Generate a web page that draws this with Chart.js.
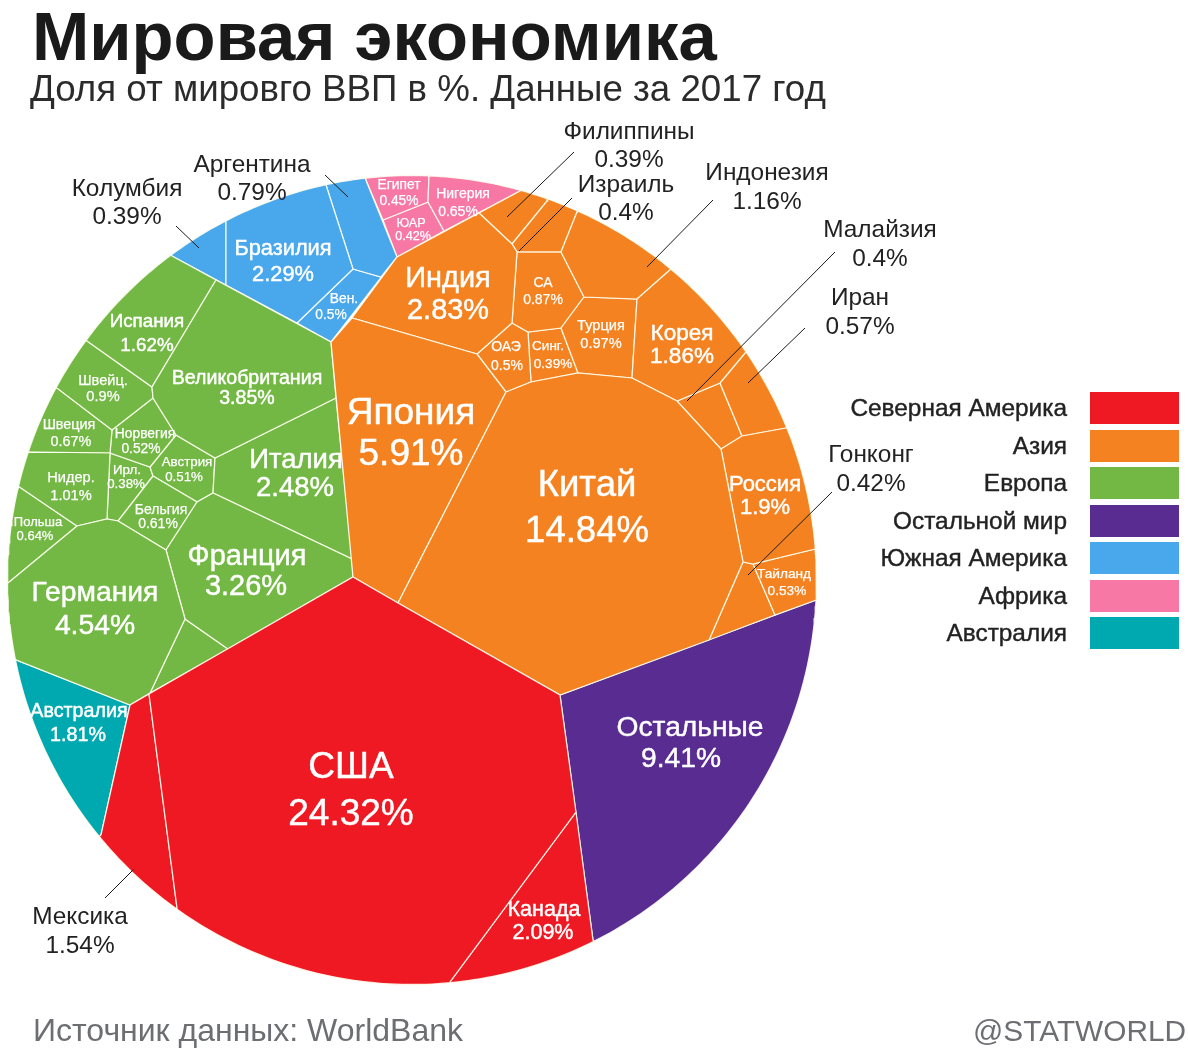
<!DOCTYPE html>
<html lang="ru">
<head>
<meta charset="utf-8">
<title>Мировая экономика</title>
<script src="https://cdn.jsdelivr.net/npm/chart.js@4"></script>
<style>
html,body{margin:0;padding:0;background:#fff;}
#page{position:relative;width:1188px;height:1051px;overflow:hidden;font-family:"Liberation Sans",Arial,sans-serif;}
canvas{position:absolute;left:0;top:0;}
.t{position:absolute;white-space:nowrap;line-height:1;}
#title{left:32px;top:3px;font-size:68.8px;font-weight:700;color:#1a1a1a;}
#subtitle{left:30px;top:71px;font-size:36.7px;color:#2b2b2b;}
#source{left:33px;top:1014px;font-size:32px;color:#6d6e71;}
#credit{right:2px;top:1016px;font-size:29.8px;color:#6d6e71;}
.lg{position:absolute;right:121px;font-size:24.4px;color:#222;white-space:nowrap;line-height:1;-webkit-text-stroke:.4px #222;}
.sw{position:absolute;left:1090px;width:89px;height:32px;}
</style>
</head>
<body>
<div id="page">
<canvas id="c" width="1188" height="1051"></canvas>
<div class="t" id="title">Мировая экономика</div>
<div class="t" id="subtitle">Доля от мировго ВВП в %. Данные за 2017 год</div>
<div class="t" id="source">Источник данных: WorldBank</div>
<div class="t" id="credit">@STATWORLD</div>
</div>
<script>
// ---------- data ----------
const regionNames  = ['Северная Америка','Азия','Европа','Остальной мир','Южная Америка','Африка','Австралия'];
const regionColors = ['#EF1923','#F58220','#73B845','#582C90','#49A7EC','#F778A5','#00A9AF'];

const countries = ['США','Канада','Мексика','Китай','Япония','Индия','Корея','Россия','Индонезия','Турция','СА','Иран','Тайланд','ОАЭ','Гонконг','Малайзия','Израиль','Филиппины','Синг.','Германия','Великобритания','Франция','Италия','Испания','Нидер.','Швейц.','Швеция','Польша','Бельгия','Норвегия','Австрия','Ирл.','Европа, прочие','Остальные','Бразилия','Аргентина','Колумбия','Вен.','Нигерия','Египет','ЮАР','Австралия'];
const shares = [24.32,2.09,1.54,14.84,5.91,2.83,1.86,1.9,1.16,0.97,0.87,0.57,0.53,0.5,0.42,0.4,0.4,0.39,0.39,4.54,3.85,3.26,2.48,1.62,1.01,0.9,0.67,0.64,0.61,0.52,0.51,0.38,null,9.41,2.29,0.79,0.39,0.5,0.65,0.45,0.42,1.81];
const regionOf = [0,0,0,1,1,1,1,1,1,1,1,1,1,1,1,1,1,1,1,2,2,2,2,2,2,2,2,2,2,2,2,2,2,3,4,4,4,4,5,5,5,6];

// cell outlines, in the chart's own data units
const outlines = {
 'США':[[149,694],[353,577],[398,603],[560,695],[576,812],[450,982],[177,908]],
 'Канада':[[576,812],[593,940],[450,982]],
 'Мексика':[[130,705],[149,694],[177,908],[101,835]],
 'Китай':[[506,392],[531,382],[578,373],[632,378],[677,401],[721,449],[743,562],[709,640],[560,695],[398,603]],
 'Япония':[[331,342],[352,318],[477,354],[506,392],[398,603],[353,577]],
 'Индия':[[397,257],[479,213],[512,244],[517,252],[512,323],[477,354],[352,318]],
 'Корея':[[671,269],[745,353],[720,383],[677,401],[632,378],[637,299]],
 'Россия':[[721,449],[742,436],[786,428],[815,549],[753,564],[743,562]],
 'Индонезия':[[577,212],[671,269],[637,299],[584,297],[561,252]],
 'Турция':[[584,297],[637,299],[632,378],[578,373],[561,328]],
 'СА':[[517,252],[561,252],[584,297],[561,328],[528,332],[512,323]],
 'Иран':[[745,353],[786,428],[742,436],[720,383]],
 'Тайланд':[[753,564],[815,549],[816,600],[775,615]],
 'ОАЭ':[[512,323],[528,332],[531,382],[506,392],[477,354]],
 'Гонконг':[[743,562],[753,564],[775,615],[709,640]],
 'Малайзия':[[677,401],[720,383],[742,436],[721,449]],
 'Израиль':[[512,244],[547,201],[577,212],[561,252],[517,252]],
 'Филиппины':[[479,213],[522,190],[547,201],[512,244]],
 'Синг.':[[528,332],[561,328],[578,373],[531,382]],
 'Германия':[[8,583],[77,526],[107,519],[118,521],[166,550],[185,619],[150,693],[130,705],[16,660]],
 'Великобритания':[[216,280],[331,342],[336,398],[215,458],[176,435],[153,398],[152,387]],
 'Франция':[[166,550],[197,502],[213,493],[352,559],[353,577],[228,649],[185,619]],
 'Италия':[[213,493],[215,458],[336,398],[352,559]],
 'Испания':[[172,256],[216,280],[152,387],[87,341]],
 'Нидер.':[[28,452],[110,453],[107,519],[77,526],[18,486]],
 'Швейц.':[[87,341],[152,387],[153,398],[112,430],[57,388]],
 'Швеция':[[57,388],[112,430],[110,453],[28,452]],
 'Польша':[[18,486],[77,526],[8,583]],
 'Бельгия':[[153,476],[197,502],[166,550],[118,521]],
 'Норвегия':[[112,430],[153,398],[176,435],[150,467],[110,453]],
 'Австрия':[[176,435],[215,458],[213,493],[197,502],[153,476],[150,467]],
 'Ирл.':[[110,453],[150,467],[153,476],[118,521],[107,519]],
 'Европа, прочие':[[185,619],[228,649],[150,693]],
 'Остальные':[[560,695],[816,600],[593,940]],
 'Бразилия':[[226,221],[326,185],[353,269],[297,323],[226,285]],
 'Аргентина':[[326,185],[365,178],[397,257],[381,277],[353,269]],
 'Колумбия':[[172,256],[226,221],[226,285]],
 'Вен.':[[297,323],[353,269],[381,277],[397,257],[331,342]],
 'Нигерия':[[429,176],[522,190],[444,231],[428,202]],
 'Египет':[[365,178],[429,176],[428,202],[383,220]],
 'ЮАР':[[383,220],[428,202],[444,231],[397,257]],
 'Австралия':[[16,660],[130,705],[101,835]]
};

// labels inside the cells: [country, nameX, nameY, valueX, valueY, fontSize]
const insideLabels = [
 ['США',351,766,351,813,37],['Китай',587,484,587,530,36.5],['Япония',411,412,411,453,37],['Индия',448,278,448,310,28.9],
 ['Корея',682,333,682,356,22.5],['Россия',765,484,765,507,22],['Турция',601,325,601,343,14.6],['СА',543,282,543,299,14],
 ['Тайланд',784,574,787,591,13.7],['ОАЭ',506,346,507,365,14],['Синг.',548,346,553,364,13.5],['Канада',544,909,543,932,21.5],
 ['Германия',95,592,95,625,28.3],['Великобритания',247,378,247,398,19.6],['Франция',247,556,246,586,29],['Италия',296,459,295,487,27.5],
 ['Испания',147,321,147,345,18.8],['Нидер.',71,477,71,495,14.6],['Швейц.',103,380,103,396,14.6],['Швеция',69,424,71,441,14.4],
 ['Польша',38,522,35,536,13],['Бельгия',161,509,158,523,14],['Норвегия',145,434,141,449,13.8],['Австрия',187,462,184,477,13.3],
 ['Ирл.',127,470,126,484,13.3],['Остальные',690,727,681,758,28.2],['Бразилия',283,248,283,274,21.8],['Вен.',344,299,331,315,13.8],
 ['Нигерия',463,193,458,211,14],['Египет',399,185,399,201,13.8],['ЮАР',411,223,413,236,12.6],['Австралия',79,711,78,735,19.7]
];

// labels outside the circle with their leader lines: [country, centreX, nameY, valueY, fromX, fromY, toX, toY]
const outsideLabels = [
 ['Филиппины',629,131,159,574,152,507,217],['Израиль',626,184,212,572,198,519,251],['Индонезия',767,172,201,713,200,647,267],
 ['Малайзия',880,229,258,835,252,687,401],['Иран',860,297,326,805,328,748,383],['Гонконг',871,454,483,832,492,748,575],
 ['Аргентина',252,164,192,325,175,348,197],['Колумбия',127,188,216,176,226,199,248],['Мексика',80,916,945,105,898,134,869]
];

const circleCentre = [412,580];
const circleRadius = 404.5;

// ---------- build ----------
function onRim(p){ return Math.abs(Math.hypot(p[0]-circleCentre[0],p[1]-circleCentre[1])-circleRadius) < 7; }
function ring(verts){
  const out=[];
  verts.forEach((p,i)=>{
    const q=verts[(i+1)%verts.length];
    out.push({x:p[0],y:p[1]});
    if(onRim(p)&&onRim(q)){          // the outer edge of a cell follows the circle
      const a=Math.atan2(p[1]-circleCentre[1],p[0]-circleCentre[0]);
      let b=Math.atan2(q[1]-circleCentre[1],q[0]-circleCentre[0]);
      while(b-a>Math.PI)b-=2*Math.PI; while(b-a<-Math.PI)b+=2*Math.PI;
      const n=Math.max(2,Math.ceil(Math.abs(b-a)/0.015));
      for(let k=0;k<=n;k++){const t=a+(b-a)*k/n;
        out.push({x:circleCentre[0]+circleRadius*Math.cos(t),y:circleCentre[1]+circleRadius*Math.sin(t)});}
    }
  });
  out.push(out[0]);
  return out;
}
const datasets = countries.map((name,i)=>({
  label:name, data:ring(outlines[name]), showLine:true, fill:'shape', tension:0,
  backgroundColor:regionColors[regionOf[i]], borderColor:'rgba(255,255,240,.88)', borderWidth:1.25, pointRadius:0, order:2
}));
outsideLabels.forEach(l=>datasets.push({
  label:'→ '+l[0], data:[{x:l[4],y:l[5]},{x:l[6],y:l[7]}], showLine:true, fill:false, tension:0,
  borderColor:'#1a1a1a', borderWidth:1, pointRadius:0, order:1
}));

const fmt=v=>String(v)+'%';
const textPlugin={
  id:'cellText',
  afterDatasetsDraw(chart){
    const {ctx,scales:{x,y}}=chart;
    const put=(s,px,py,size,color,weight)=>{
      ctx.font='400 '+size+'px "Liberation Sans",Arial,sans-serif';
      ctx.fillStyle=color;ctx.strokeStyle=color;ctx.lineWidth=weight;
      const X=x.getPixelForValue(px),Y=y.getPixelForValue(py)+size*0.05;
      ctx.fillText(s,X,Y);
      if(weight>0)ctx.strokeText(s,X,Y);
    };
    ctx.save();ctx.textAlign='center';ctx.textBaseline='middle';ctx.lineJoin='round';
    insideLabels.forEach(l=>{
      const v=shares[countries.indexOf(l[0])], w=l[5]>=17?0.45:0.25;
      put(l[0],l[1],l[2],l[5],'#fff',w);
      put(fmt(v),l[3],l[4],l[5],'#fff',w);
    });
    outsideLabels.forEach(l=>{
      const v=shares[countries.indexOf(l[0])];
      put(l[0],l[1],l[2],24.4,'#222',0);
      put(fmt(v),l[1],l[3],24.4,'#222',0);
    });
    ctx.restore();
  }
};

new Chart(document.getElementById('c'),{
  type:'scatter',
  data:{datasets},
  plugins:[textPlugin],
  options:{
    responsive:false,animation:false,devicePixelRatio:1,
    layout:{padding:0},
    events:[],
    plugins:{legend:{display:false},tooltip:{enabled:false},title:{display:false}},
    scales:{
      x:{type:'linear',display:false,min:0,max:1188},
      y:{type:'linear',display:false,min:0,max:1051,reverse:true}
    }
  }
});

// legend
const page=document.getElementById('page');
const legendTops=[392,430,467,505,542,580,617];
regionNames.forEach((n,i)=>{
  const s=document.createElement('div');s.className='sw';s.style.top=legendTops[i]+'px';s.style.background=regionColors[i];page.appendChild(s);
  const t=document.createElement('div');t.className='lg';t.textContent=n;t.style.top=(legendTops[i]+4)+'px';page.appendChild(t);
});
</script>
</body>
</html>
